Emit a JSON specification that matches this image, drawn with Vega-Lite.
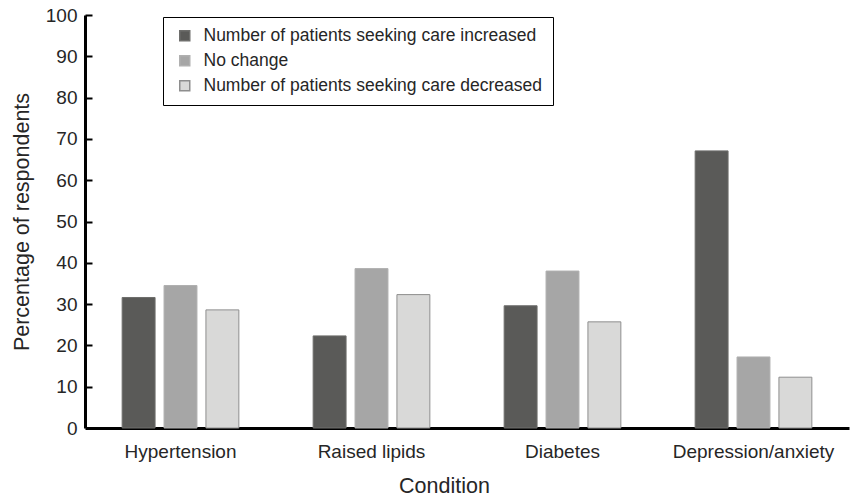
{
  "$schema": "https://vega.github.io/schema/vega-lite/v6.json",
  "width": 764,
  "height": 413,
  "autosize": "none",
  "padding": {"left": 85, "top": 15, "right": 7, "bottom": 70},
  "background": "white",
  "data": {
    "values": [
      {"condition": "Hypertension", "response": "Number of patients seeking care increased", "pct": 31.6},
      {"condition": "Hypertension", "response": "No change", "pct": 34.5},
      {"condition": "Hypertension", "response": "Number of patients seeking care decreased", "pct": 28.6},
      {"condition": "Raised lipids", "response": "Number of patients seeking care increased", "pct": 22.3},
      {"condition": "Raised lipids", "response": "No change", "pct": 38.6},
      {"condition": "Raised lipids", "response": "Number of patients seeking care decreased", "pct": 32.3},
      {"condition": "Diabetes", "response": "Number of patients seeking care increased", "pct": 29.6},
      {"condition": "Diabetes", "response": "No change", "pct": 38.0},
      {"condition": "Diabetes", "response": "Number of patients seeking care decreased", "pct": 25.7},
      {"condition": "Depression/anxiety", "response": "Number of patients seeking care increased", "pct": 67.1},
      {"condition": "Depression/anxiety", "response": "No change", "pct": 17.2},
      {"condition": "Depression/anxiety", "response": "Number of patients seeking care decreased", "pct": 12.3}
    ]
  },
  "config": {
    "font": "Liberation Sans",
    "view": {"stroke": null},
    "axis": {"grid": false, "domainColor": "black", "domainWidth": 3, "tickColor": "black", "tickWidth": 2, "labelFont": "Liberation Sans", "titleFont": "Liberation Sans", "labelColor": "#262626", "titleColor": "#262626", "labelFontSize": 19, "titleFontSize": 21.5, "titleFontWeight": "normal"}
  },
  "resolve": {"axis": {"y": "independent"}},
  "layer": [
    {
      "mark": {"type": "bar", "strokeWidth": 1},
      "encoding": {
        "x": {
          "field": "condition", "type": "nominal",
          "sort": ["Hypertension", "Raised lipids", "Diabetes", "Depression/anxiety"],
          "scale": {"paddingInner": 0, "paddingOuter": 0},
          "axis": {"title": "Condition", "labelAngle": 0, "ticks": false, "labelPadding": 14, "titlePadding": 14, "titleX": 359, "titleAnchor": "middle"}
        },
        "xOffset": {
          "field": "response", "type": "nominal",
          "sort": ["Number of patients seeking care increased", "No change", "Number of patients seeking care decreased"],
          "scale": {"paddingInner": 0.214, "paddingOuter": 0.887}
        },
        "y": {
          "field": "pct", "type": "quantitative",
          "scale": {"domain": [0, 100], "nice": false},
          "axis": {"title": "Percentage of respondents", "values": [0,10,20,30,40,50,60,70,80,90,100], "labelOverlap": false, "ticks": false, "labelPadding": 8, "titlePadding": 12}
        },
        "color": {
          "field": "response", "type": "nominal",
          "sort": ["Number of patients seeking care increased", "No change", "Number of patients seeking care decreased"],
          "scale": {"domain": ["Number of patients seeking care increased", "No change", "Number of patients seeking care decreased"], "range": ["#5a5a58", "#a6a6a6", "#d9d9d8"]},
          "legend": {
            "title": null, "orient": "none", "legendX": 78, "legendY": 2,
            "strokeColor": "black", "padding": 10, "symbolType": "square", "symbolSize": 100, "symbolOffset": 3,
            "labelFontSize": 17.5, "labelColor": "#262626", "rowPadding": 6, "labelLimit": 500, "labelOffset": 10
          }
        },
        "stroke": {
          "field": "response", "type": "nominal",
          "scale": {"domain": ["Number of patients seeking care increased", "No change", "Number of patients seeking care decreased"], "range": ["#6e6e6c", "#b0b0b0", "#8e8e8e"]},
          "legend": null
        }
      }
    },
    {
      "mark": {"type": "rule", "opacity": 0},
      "encoding": {
        "y": {
          "field": "pct", "type": "quantitative",
          "scale": {"domain": [0, 100], "nice": false},
          "axis": {"orient": "right", "offset": -764, "title": null, "labels": false, "domain": false, "values": [10,20,30,40,50,60,70,80,90,100], "tickSize": 7, "tickWidth": 2, "tickColor": "black"}
        }
      }
    }
  ]
}
